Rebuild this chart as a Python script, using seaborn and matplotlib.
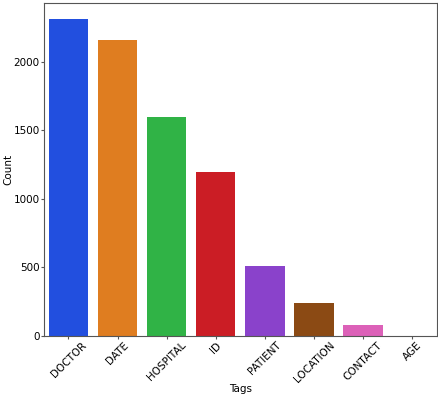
import matplotlib
matplotlib.use("Agg")
import matplotlib.pyplot as plt
import seaborn as sns
import pandas as pd

tags = ["DOCTOR", "DATE", "HOSPITAL", "ID", "PATIENT", "LOCATION", "CONTACT", "AGE"]
counts = [2314, 2161, 1599, 1197, 511, 241, 80, 3]

df = pd.DataFrame({"Tags": tags, "Count": counts})

plt.rcParams["font.size"] = 7.5
fig = plt.figure(figsize=(4.39, 3.98), dpi=100)
ax = fig.add_axes([0.1, 0.156, 0.895, 0.836])
sns.barplot(data=df, x="Tags", y="Count", hue="Tags", palette="bright", legend=False, ax=ax)
ax.tick_params(axis="x", rotation=45, pad=1, length=2, color="#555555")
ax.tick_params(axis="y", pad=1, length=2, color="#555555")
for lab in ax.get_xticklabels():
    lab.set_ha("center")
ax.set_xlabel("Tags", labelpad=0)
ax.set_ylabel("Count", labelpad=0)
for s in ax.spines.values():
    s.set_color("#555555")

fig.savefig("out.png", dpi=100)
